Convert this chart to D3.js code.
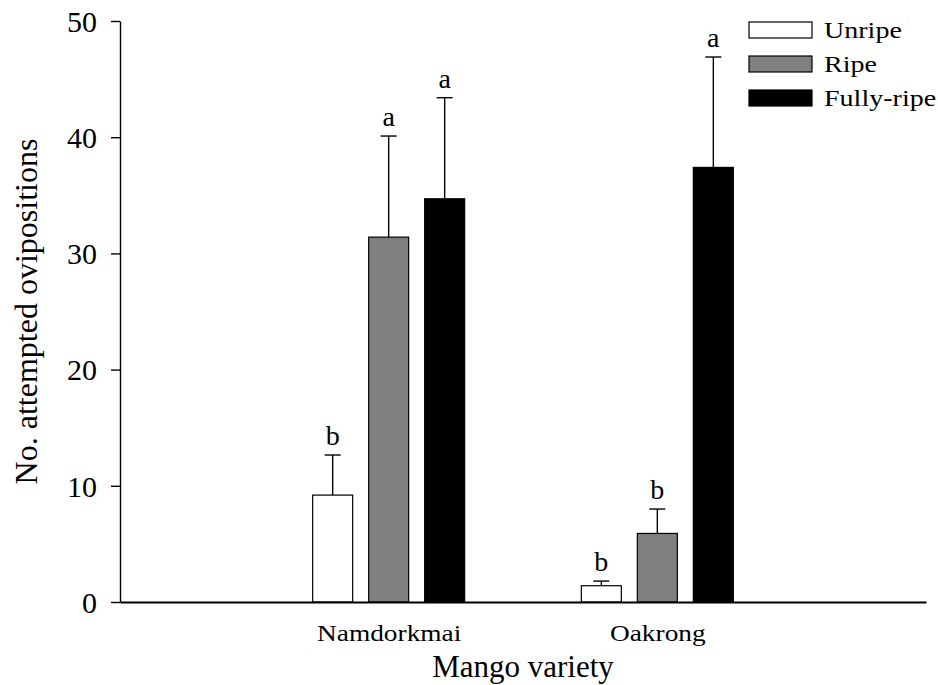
<!DOCTYPE html>
<html lang="en">
  <head>
    <meta charset="UTF-8" />
    <title>attempted-ovipositions</title>
    <style>
      body {
        margin: 0;
        background: #fff;
      }
      svg {
        display: block;
        font-family: "Liberation Serif", "Times New Roman", serif;
      }
      .axis path,
      .axis line {
        stroke: #000;
      }
      .axis text {
        fill: #000;
        font-family: "Liberation Serif", "Times New Roman", serif;
      }
    </style>
  </head>
  <body>
    <script src="https://cdn.jsdelivr.net/npm/d3@7"></script>
    <script>
      const categories = ["Namdorkmai", "Oakrong"];
      const series = ["Unripe", "Ripe", "Fully-ripe"];
      const unripeMeans = [9.2, 1.4];
      const ripeMeans = [31.4, 5.9];
      const fullyRipeMeans = [34.7, 37.4];
      const unripeErrors = [3.45, 0.4];
      const ripeErrors = [8.7, 2.1];
      const fullyRipeErrors = [8.7, 9.5];
      const unripeLetters = ["b", "b"];
      const ripeLetters = ["a", "b"];
      const fullyRipeLetters = ["a", "a"];
      const yTicks = [0, 10, 20, 30, 40, 50];

      const means = [unripeMeans, ripeMeans, fullyRipeMeans];
      const errors = [unripeErrors, ripeErrors, fullyRipeErrors];
      const letters = [unripeLetters, ripeLetters, fullyRipeLetters];
      const fills = ["#ffffff", "#808080", "#000000"];

      // one row per bar
      const rows = [];
      categories.forEach((c, ci) => {
        series.forEach((s, si) => {
          rows.push({
            cat: c,
            ser: s,
            mean: means[si][ci],
            err: errors[si][ci],
            letter: letters[si][ci]
          });
        });
      });

      const width = 938;
      const height = 685;
      const plotLeft = 120;
      const plotRight = 926;
      const plotTop = 21;
      const plotBottom = 602;

      const svg = d3
        .select("body")
        .append("svg")
        .attr("width", width)
        .attr("height", height);

      const y = d3.scaleLinear().domain([0, 50]).range([plotBottom, plotTop]);
      const x = d3.scalePoint().domain(categories).range([plotLeft, plotRight]).padding(1);
      const inner = d3
        .scaleBand()
        .domain(series)
        .range([-76, 76])
        .paddingInner(16 / 56)
        .paddingOuter(0);
      const color = d3.scaleOrdinal().domain(series).range(fills);
      const barMid = d => x(d.cat) + inner(d.ser) + inner.bandwidth() / 2;

      // y axis
      const yAxis = svg
        .append("g")
        .attr("class", "axis")
        .attr("transform", `translate(${plotLeft},0)`)
        .call(d3.axisLeft(y).tickValues(yTicks).tickSize(9).tickSizeOuter(0).tickPadding(14));
      yAxis.select(".domain").attr("stroke-width", 1.4);
      yAxis.selectAll(".tick line").attr("stroke-width", 1.4);
      yAxis.selectAll("text").attr("font-size", 30).attr("dy", "0.34em");

      // bars
      svg
        .append("g")
        .selectAll("rect")
        .data(rows)
        .enter()
        .append("rect")
        .attr("x", d => x(d.cat) + inner(d.ser))
        .attr("width", inner.bandwidth())
        .attr("y", d => y(d.mean))
        .attr("height", d => y(0) - y(d.mean))
        .attr("fill", d => color(d.ser))
        .attr("stroke", "#000")
        .attr("stroke-width", 1.2);

      // error bars (upper only)
      const errGroup = svg.append("g").attr("stroke", "#000").attr("stroke-width", 1.4);
      errGroup
        .selectAll("line.v")
        .data(rows)
        .enter()
        .append("line")
        .attr("class", "v")
        .attr("x1", barMid)
        .attr("x2", barMid)
        .attr("y1", d => y(d.mean))
        .attr("y2", d => y(d.mean + d.err));
      errGroup
        .selectAll("line.cap")
        .data(rows)
        .enter()
        .append("line")
        .attr("class", "cap")
        .attr("x1", d => barMid(d) - 8)
        .attr("x2", d => barMid(d) + 8)
        .attr("y1", d => y(d.mean + d.err))
        .attr("y2", d => y(d.mean + d.err));

      // significance letters
      svg
        .append("g")
        .selectAll("text")
        .data(rows)
        .enter()
        .append("text")
        .attr("x", barMid)
        .attr("y", d => y(d.mean + d.err) - 10)
        .attr("text-anchor", "middle")
        .attr("font-size", 28)
        .text(d => d.letter);

      // x axis (labels drawn a bit wide, like the original)
      const xAxis = svg
        .append("g")
        .attr("class", "axis")
        .attr("transform", `translate(0,${plotBottom})`)
        .call(d3.axisBottom(x).tickSize(0).tickSizeOuter(0));
      xAxis.select(".domain").attr("stroke-width", 2);
      xAxis
        .selectAll("text")
        .attr("font-size", 24)
        .attr("dy", null)
        .attr("y", 39)
        .attr("transform", "scale(1.14,1)");

      // axis titles
      svg
        .append("text")
        .attr("x", (plotLeft + plotRight) / 2)
        .attr("y", 677)
        .attr("text-anchor", "middle")
        .attr("font-size", 31)
        .text("Mango variety");

      svg
        .append("text")
        .attr("transform", `translate(37,${(plotTop + plotBottom) / 2}) rotate(-90)`)
        .attr("text-anchor", "middle")
        .attr("font-size", 32)
        .text("No. attempted ovipositions");

      // legend
      const legend = svg
        .append("g")
        .attr("transform", "translate(749,22)")
        .selectAll("g")
        .data(series)
        .enter()
        .append("g")
        .attr("transform", (d, i) => `translate(0,${i * 34})`);
      legend
        .append("rect")
        .attr("width", 63)
        .attr("height", 16)
        .attr("fill", d => color(d))
        .attr("stroke", "#000")
        .attr("stroke-width", 1.2);
      legend
        .append("text")
        .attr("transform", "translate(75,16) scale(1.22,1)")
        .attr("font-size", 23)
        .text(d => d);
    </script>
  </body>
</html>
